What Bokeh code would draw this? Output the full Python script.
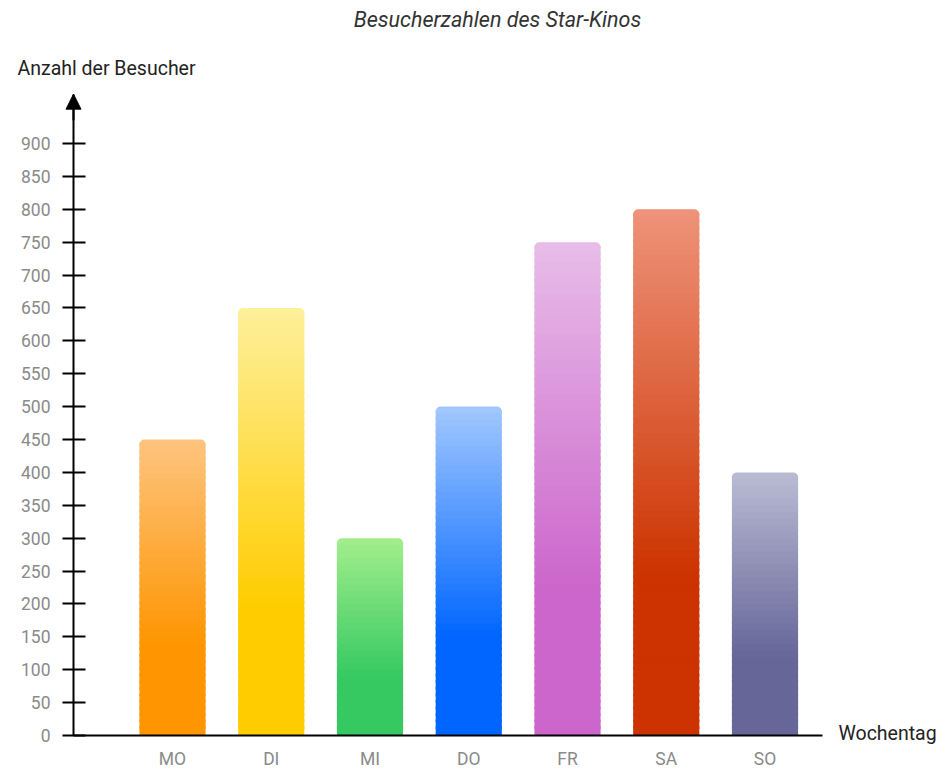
import numpy as np
from bokeh.plotting import figure
from bokeh.models import Range1d, FixedTicker, ColumnDataSource, Label, Arrow, NormalHead
from bokeh.embed import file_html
from bokeh.resources import INLINE

# ---- data ----
days = ["MO", "DI", "MI", "DO", "FR", "SA", "SO"]
visitors = [450, 650, 300, 500, 750, 800, 400]
base_colors = ["#FF9500", "#FFCC00", "#36C962", "#0066FF", "#CC66CC", "#CC3300", "#666699"]
top_colors = ["#FDC47E", "#FEF09B", "#A3EF8C", "#A2C8FF", "#E8BDE8", "#EE937A", "#BABCD3"]
y_ticks = list(range(0, 901, 50))
title_text = "Besucherzahlen des Star-Kinos"
y_title = "Anzahl der Besucher"
x_title = "Wochentag"

FONT = "Roboto"

W, H = 940, 767
PX_X = 98.75           # pixels per day
PX_Y = 592.0 / 900.0   # pixels per visitor
X0_PX, Y0_PX = 172.0, 735.0   # screen position of day 0 / value 0
X_AXIS_END = 6.585
Y_AXIS_END = 975
Y_AXIS_X = (73 - X0_PX) / PX_X


def hex2rgb(h):
    h = h.lstrip("#")
    return tuple(int(h[i:i + 2], 16) for i in (0, 2, 4))


def mix(c1, c2, t):
    a, b = hex2rgb(c1), hex2rgb(c2)
    return "#%02x%02x%02x" % tuple(int(round(a[k] + (b[k] - a[k]) * t)) for k in range(3))


p = figure(width=W, height=H, output_backend="svg", toolbar_location=None,
           x_range=Range1d(-X0_PX / PX_X, (W - X0_PX) / PX_X),
           y_range=Range1d(-(H - Y0_PX) / PX_Y, Y0_PX / PX_Y),
           min_border_left=0, min_border_right=0, min_border_top=0, min_border_bottom=0)
p.outline_line_color = None
p.xgrid.visible = False
p.ygrid.visible = False
p.background_fill_color = "white"

# gradient bars: each bar split into thin slices coloured from base (bottom) to light (top)
half = 0.335
step = 10.0
body = dict(l=[], r=[], b=[], t=[], c=[])
tops = dict(l=[], r=[], b=[], t=[], c=[])
for i, (v, bc, tc) in enumerate(zip(visitors, base_colors, top_colors)):
    edges = np.arange(0, v, step)
    for b in edges:
        t = min(b + step, v)
        frac = (b + t) / 2 / v
        f = 0.0 if frac < 0.3 else (frac - 0.3) / 0.7
        col = mix(bc, tc, f)
        last = t >= v
        d = tops if last else body
        d["l"].append(i - half)
        d["r"].append(i + half)
        d["b"].append(b)
        d["t"].append(t if last else min(t + 4, v))
        d["c"].append(col)

p.quad(left="l", right="r", bottom="b", top="t", source=ColumnDataSource(body),
       fill_color="c", line_color=None)
p.quad(left="l", right="r", bottom="b", top="t", source=ColumnDataSource(tops),
       fill_color="c", line_color=None, border_radius=(5, 5, 0, 0))

# axes
ya = p.yaxis[0]
ya.fixed_location = Y_AXIS_X
ya.bounds = (0, Y_AXIS_END)
ya.ticker = FixedTicker(ticks=y_ticks)
ya.major_tick_in = 12
ya.major_tick_out = 11
ya.major_tick_line_width = 2
ya.major_tick_line_color = "black"
ya.minor_tick_line_color = None
ya.axis_line_width = 2
ya.axis_line_color = "black"
ya.major_label_text_color = "#8a8a8a"
ya.major_label_text_font = FONT
ya.major_label_text_font_size = "17.5px"
ya.major_label_standoff = 12

xa = p.xaxis[0]
xa.fixed_location = 0
xa.bounds = (Y_AXIS_X, X_AXIS_END)
xa.ticker = FixedTicker(ticks=list(range(len(days))))
xa.major_label_overrides = {i: d for i, d in enumerate(days)}
xa.major_tick_in = 0
xa.major_tick_out = 0
xa.minor_tick_line_color = None
xa.axis_line_width = 2
xa.axis_line_color = "black"
xa.major_label_text_color = "#8a8a8a"
xa.major_label_text_font = FONT
xa.major_label_text_font_size = "17.5px"
xa.major_label_standoff = 13

# arrow head on the y axis
p.add_layout(Arrow(end=NormalHead(size=15, fill_color="black", line_color="black"),
                   x_start=Y_AXIS_X, y_start=Y_AXIS_END - 40, x_end=Y_AXIS_X, y_end=Y_AXIS_END,
                   line_width=2, line_color="black"))

# texts
p.add_layout(Label(x=(497 - X0_PX) / PX_X, y=(Y0_PX - 19) / PX_Y, text=title_text,
                   text_align="center", text_baseline="middle",
                   text_font=FONT, text_font_style="italic", text_font_size="21.5px",
                   text_color="#333333"))
p.add_layout(Label(x=(17 - X0_PX) / PX_X, y=(Y0_PX - 68) / PX_Y, text=y_title,
                   text_align="left", text_baseline="middle",
                   text_font=FONT, text_font_size="19.5px", text_color="#222222"))
p.add_layout(Label(x=(838 - X0_PX) / PX_X, y=(Y0_PX - 733) / PX_Y, text=x_title,
                   text_align="left", text_baseline="middle",
                   text_font=FONT, text_font_size="19.5px", text_color="#222222"))

open("out.html", "w").write(file_html(p, INLINE))
